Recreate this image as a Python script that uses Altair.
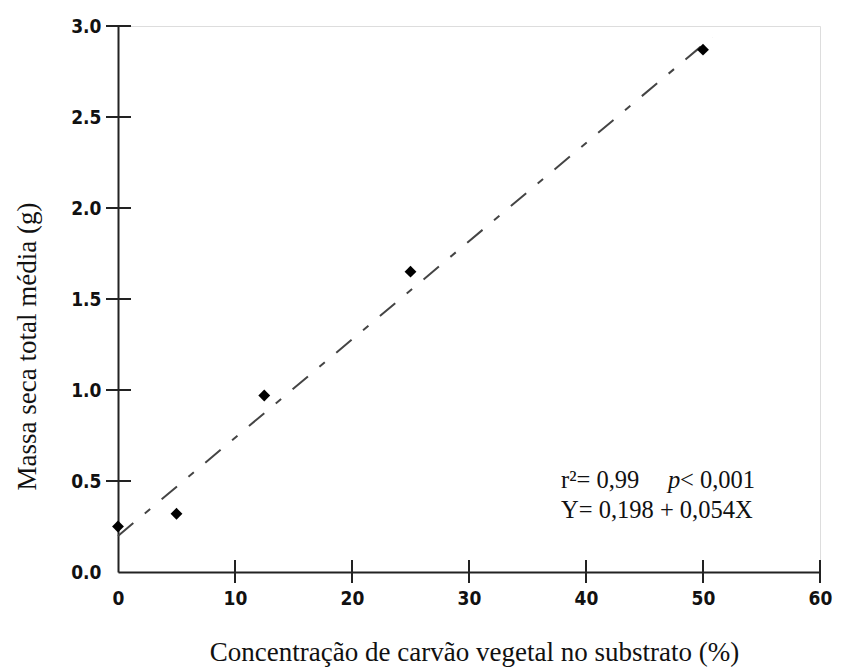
import altair as alt
import pandas as pd

# Observed data
conc = [0, 5, 12.5, 25, 50]
massa = [0.25, 0.32, 0.97, 1.65, 2.87]

# Regression line end points (Y = 0.198 + 0.054X)
fit_x = [0, 50.8]
fit_y = [0.198, 2.94]

x_ticks = [10, 20, 30, 40, 50, 60]
y_ticks = [0.5, 1.0, 1.5, 2.0, 2.5, 3.0]
x_labels = [0, 10, 20, 30, 40, 50, 60]
y_labels = [0.0, 0.5, 1.0, 1.5, 2.0, 2.5, 3.0]

W, H = 702, 546
LABEL_FONT = "DejaVu Sans Condensed, Liberation Sans Narrow, Liberation Sans, sans-serif"
SERIF = "Liberation Serif, Times New Roman, serif"

pts = pd.DataFrame({"x": conc, "y": massa})
fit = pd.DataFrame({"x": fit_x, "y": fit_y})
xt = pd.DataFrame({"x": x_ticks})
yt = pd.DataFrame({"y": y_ticks})

xscale = alt.Scale(domain=[0, 60], nice=False, zero=False)
yscale = alt.Scale(domain=[0, 3], nice=False, zero=False)

xaxis = alt.Axis(
    values=x_labels, format="d", ticks=False, grid=False, labelFlush=False,
    domainColor="#222", domainWidth=2,
    labelFont=LABEL_FONT, labelFontWeight="bold", labelFontSize=19, labelColor="#111",
    labelPadding=17,
    title="Concentração de carvão vegetal no substrato (%)",
    titleFont=SERIF, titleFontWeight="normal", titleFontSize=27, titleColor="#111",
    titleX=356, titleY=88, titleBaseline="alphabetic", titleAlign="center",
)
yaxis = alt.Axis(
    values=y_labels, format=".1f", ticks=False, grid=False, labelFlush=False,
    domainColor="#222", domainWidth=2,
    labelFont=LABEL_FONT, labelFontWeight="bold", labelFontSize=19, labelColor="#111",
    labelPadding=17,
    title="Massa seca total média (g)",
    titleFont=SERIF, titleFontWeight="normal", titleFontSize=27, titleColor="#111",
    titleX=-77, titleY=320, titleAngle=-90, titleBaseline="bottom", titleAlign="center",
)

base_pts = alt.Chart(pts).mark_point(
    shape="diamond", filled=True, size=140, color="black", opacity=1
).encode(
    x=alt.X("x:Q", scale=xscale, axis=xaxis),
    y=alt.Y("y:Q", scale=yscale, axis=yaxis),
)

line = alt.Chart(fit).mark_line(
    color="#444", strokeWidth=2, strokeDash=[20, 15, 7, 15]
).encode(x=alt.X("x:Q", scale=xscale), y=alt.Y("y:Q", scale=yscale))

xtick_rules = alt.Chart(xt).mark_rule(color="#222", strokeWidth=2).encode(
    x=alt.X("x:Q", scale=xscale),
    y=alt.value(H - 12), y2=alt.value(H + 11),
)
ytick_rules = alt.Chart(yt).mark_rule(color="#222", strokeWidth=2).encode(
    y=alt.Y("y:Q", scale=yscale),
    x=alt.value(-12), x2=alt.value(13),
)

FS = 24.5
ann1 = alt.Chart(pd.DataFrame({"t": ["r²= 0,99"]})).mark_text(
    font=SERIF, fontSize=FS, align="left", baseline="alphabetic", color="#111"
).encode(text="t:N", x=alt.value(443), y=alt.value(462))
ann_p = alt.Chart(pd.DataFrame({"t": ["p"]})).mark_text(
    font=SERIF, fontSize=FS, fontStyle="italic", align="left", baseline="alphabetic", color="#111"
).encode(text="t:N", x=alt.value(550), y=alt.value(462))
ann_p2 = alt.Chart(pd.DataFrame({"t": ["< 0,001"]})).mark_text(
    font=SERIF, fontSize=FS, align="left", baseline="alphabetic", color="#111"
).encode(text="t:N", x=alt.value(562), y=alt.value(462))
ann2 = alt.Chart(pd.DataFrame({"t": ["Y= 0,198 + 0,054X"]})).mark_text(
    font=SERIF, fontSize=FS, align="left", baseline="alphabetic", color="#111"
).encode(text="t:N", x=alt.value(443), y=alt.value(492))

chart = alt.layer(
    line, base_pts, xtick_rules, ytick_rules, ann1, ann_p, ann_p2, ann2
).properties(
    width=W, height=H,
    autosize=alt.AutoSizeParams(type="none"),
    padding={"left": 110, "top": 18, "right": 14, "bottom": 100},
).configure_view(stroke=None).configure(background="white")

chart.save("out.html", embed_options={"renderer": "svg", "actions": False})
